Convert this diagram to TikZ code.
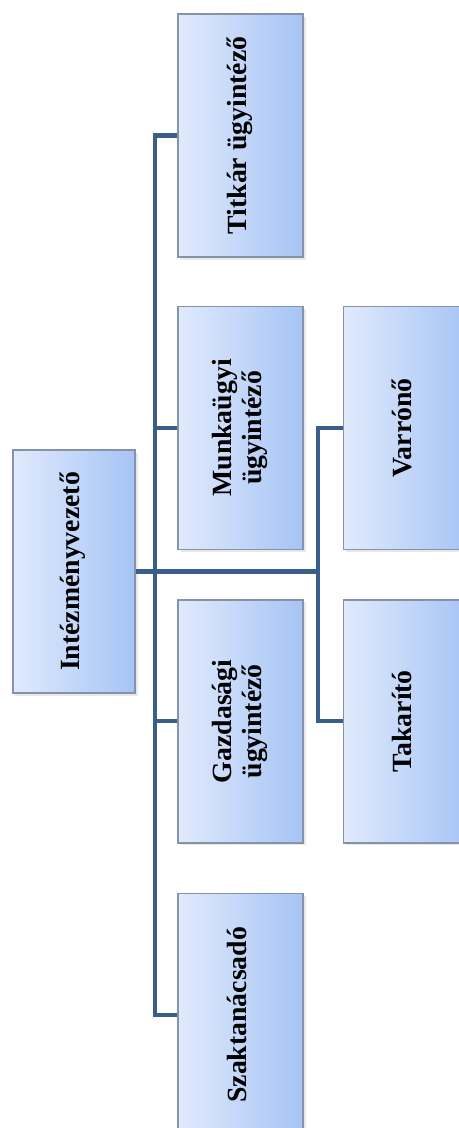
\documentclass[tikz,border=0pt]{standalone}
\usepackage{fontspec}
\setmainfont{Liberation Serif}
\usepackage{xcolor}
\usepackage{tikz}
\usetikzlibrary{positioning,shadows}

\definecolor{boxlight}{RGB}{224,234,252}
\definecolor{boxdark}{RGB}{166,196,245}
\definecolor{boxedge}{RGB}{132,146,170}
\definecolor{linkblue}{RGB}{58,94,140}

\newcommand{\vtext}[1]{\rotatebox{90}{\begin{tabular}{@{}c@{}}#1\end{tabular}}}

\begin{document}
\begin{tikzpicture}[
  node distance=9.6mm and 7.8mm,
  unit/.style={draw=boxedge, line width=0.8pt, left color=boxlight, right color=boxdark,
               minimum width=25mm, minimum height=48.6mm, inner sep=0pt,
               font=\fontsize{15.8}{17}\selectfont\bfseries,
               drop shadow={opacity=0.18, shadow xshift=0.5mm, shadow yshift=-0.5mm}},
  head/.style={unit, minimum width=24.4mm},
  conn/.style={draw=linkblue, line width=2.3pt}
]
\useasboundingbox (0,0) rectangle (9.18,-22.56);
\node[unit] at (4.81,-2.71) (titkar) {\vtext{Titkár ügyintéző}};
\node[unit, below=of titkar] (munka) {\vtext{Munkaügyi\\ügyintéző}};
\node[unit, below=9.8mm of munka] (gazd) {\vtext{Gazdasági\\ügyintéző}};
\node[unit, below=9.8mm of gazd] (szak) {\vtext{Szaktanácsadó}};
\node[unit, right=of munka] (varro) {\vtext{Varrónő}};
\node[unit, right=of gazd] (takar) {\vtext{Takarító}};
\node[head] at (1.48,-11.43) (boss) {\vtext{Intézményvezető}};
\coordinate[right=3.8mm of boss.east] (trunk);
\coordinate[left=5mm of varro.west] (branch);
% main trunk and its arms
\draw[conn] (titkar.west) -| (trunk) |- (szak.west);
\draw[conn] (munka.west) -- (munka.west -| trunk);
\draw[conn] (gazd.west) -- (gazd.west -| trunk);
\draw[conn] (boss.east) -- (boss.east -| branch);
% second branch
\draw[conn] (varro.west) -- (branch) |- (takar.west);
\end{tikzpicture}
\end{document}
